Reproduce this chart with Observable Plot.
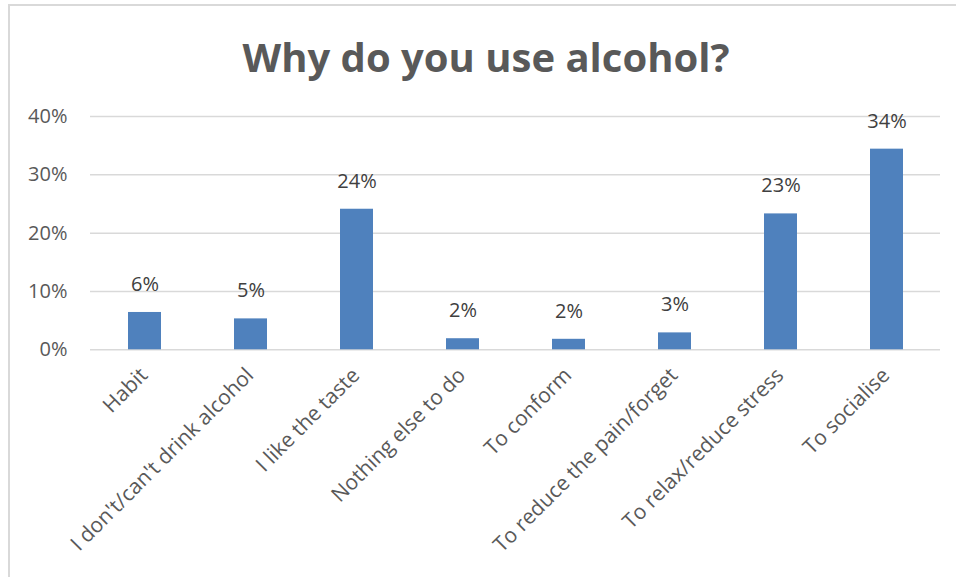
<!DOCTYPE html>
<html>
<head>
<meta charset="utf-8">
<script src="https://cdn.jsdelivr.net/npm/d3@7"></script>
<script src="https://cdn.jsdelivr.net/npm/@observablehq/plot@0.6"></script>
<style>
  html, body { margin: 0; padding: 0; background: #fff; }
  #wrap { position: relative; width: 956px; height: 577px; overflow: hidden; background: #fff; font-family: "Open Sans", sans-serif; }
  #frame { position: absolute; left: 8px; top: 4px; width: 960px; height: 600px; border-left: 2px solid #d9d9d9; border-top: 2px solid #d9d9d9; box-sizing: border-box; }
  #title { position: absolute; left: 0; top: 29px; width: 972px; text-align: center; font-weight: 700; font-size: 40px; color: #595959; line-height: 56px; }
  #chart { position: absolute; left: 0; top: 100px; }
</style>
</head>
<body>
<div id="wrap">
  <div id="frame"></div>
  <div id="title">Why do you use alcohol?</div>
  <div id="chart"></div>
</div>
<script>
const categories = ["Habit", "I don't/can't drink alcohol", "I like the taste", "Nothing else to do", "To conform", "To reduce the pain/forget", "To relax/reduce stress", "To socialise"];
const values = [0.064, 0.053, 0.241, 0.019, 0.018, 0.029, 0.233, 0.344];
const labels = ["6%", "5%", "24%", "2%", "2%", "3%", "23%", "34%"];
const yTicks = [0, 0.1, 0.2, 0.3, 0.4];

const data = categories.map((c, i) => ({category: c, value: values[i], label: labels[i]}));

const chart = Plot.plot({
  width: 956,
  height: 477,
  marginLeft: 90,
  marginRight: 16,
  marginTop: 16,
  marginBottom: 227.7,
  style: {fontFamily: "Open Sans, sans-serif", fontSize: "20px", color: "#595959", background: "transparent", overflow: "visible"},
  x: {domain: categories, paddingInner: 0.69, paddingOuter: 0.345, label: null},
  y: {domain: [0, 0.4], label: null},
  marks: [
    Plot.gridY(yTicks, {stroke: "#d9d9d9", strokeOpacity: 1, strokeWidth: 1.5}),
    Plot.axisY(yTicks, {tickSize: 0, tickPadding: 23, tickFormat: d => Math.round(d * 100) + "%", fontSize: 20, fill: "#595959", label: null}),
    Plot.axisX({tickSize: 0, tickPadding: 22, dx: -1, tickRotate: -45, fontSize: 21, fill: "#595959", label: null}),
    Plot.barY(data, {x: "category", y: "value", fill: "#4f81bd"}),
    Plot.text(data, {x: "category", y: "value", text: "label", dy: -28, fontSize: 20, fill: "#404040"})
  ]
});
document.getElementById("chart").appendChild(chart);
</script>
</body>
</html>
